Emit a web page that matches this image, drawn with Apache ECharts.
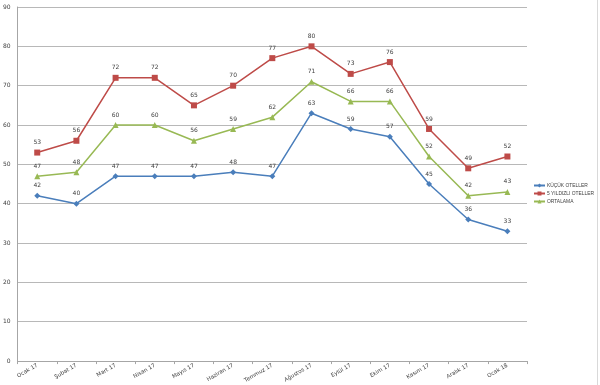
<!DOCTYPE html>
<html><head><meta charset="utf-8">
<script src="https://cdn.jsdelivr.net/npm/echarts@6/dist/echarts.min.js"></script>
<style>html,body{margin:0;padding:0;background:#fff}#c{width:600px;height:385px}</style>
</head><body><div id="c"></div>
<script>
const categories = ['Ocak 17','Şubat 17','Mart 17','Nisan 17','Mayıs 17','Haziran 17','Temmuz 17','Ağustos 17','Eylül 17','Ekim 17','Kasım 17','Aralık 17','Ocak 18'];
const kucukOteller = [42,40,47,47,47,48,47,63,59,57,45,36,33];
const besYildizli = [53,56,72,72,65,70,77,80,73,76,59,49,52];
const ortalama = [47,48,60,60,56,59,62,71,66,66,52,42,43];
const yTicks = [0,10,20,30,40,50,60,70,80,90];

const chart = echarts.init(document.getElementById('c'));
const lbl = {show:true, position:'top', fontSize:6, color:'#404040', distance:4, fontFamily:'DejaVu Sans'};
chart.setOption({
  animation:false,
  grid:{left:16,right:73,top:7,bottom:17,containLabel:false},
  legend:{orient:'vertical',left:533,top:183,itemWidth:11,itemHeight:5,itemGap:3,padding:0,
    textStyle:{fontSize:4.9,color:'#404040',fontFamily:'Liberation Sans',padding:[0,0,0,-3]},
    data:['KÜÇÜK OTELLER','5 YILDIZLI OTELLER','ORTALAMA']},
  xAxis:{type:'category',data:categories,boundaryGap:true,
    axisLine:{lineStyle:{color:'#a6a6a6'}},
    axisTick:{show:true,length:3,lineStyle:{color:'#a6a6a6'}},
    axisLabel:{rotate:30,fontSize:5.5,color:'#404040',margin:4,interval:0,fontFamily:'DejaVu Sans'}},
  yAxis:{type:'value',min:0,max:90,interval:10,
    axisLine:{show:true,lineStyle:{color:'#a6a6a6'}},
    axisTick:{show:false},
    axisLabel:{fontSize:6,color:'#404040',margin:7,fontFamily:'DejaVu Sans',
      formatter:v=>yTicks.includes(v)?String(v):''},
    splitLine:{lineStyle:{color:'#b8b8b8'}}},
  series:[
    {name:'KÜÇÜK OTELLER',type:'line',data:kucukOteller,symbol:'diamond',symbolSize:6,
      itemStyle:{color:'#4A7EBB'},lineStyle:{color:'#4A7EBB',width:1.5},label:lbl},
    {name:'5 YILDIZLI OTELLER',type:'line',data:besYildizli,symbol:'rect',symbolSize:6,
      itemStyle:{color:'#BE4B48'},lineStyle:{color:'#BE4B48',width:1.5},label:lbl},
    {name:'ORTALAMA',type:'line',data:ortalama,symbol:'triangle',symbolSize:6,
      itemStyle:{color:'#98B954'},lineStyle:{color:'#98B954',width:1.5},label:lbl}
  ],
  graphic:[{type:'line',shape:{x1:597.5,y1:0,x2:597.5,y2:385},style:{stroke:'#d9d9d9',lineWidth:1}}]
});
</script></body></html>
